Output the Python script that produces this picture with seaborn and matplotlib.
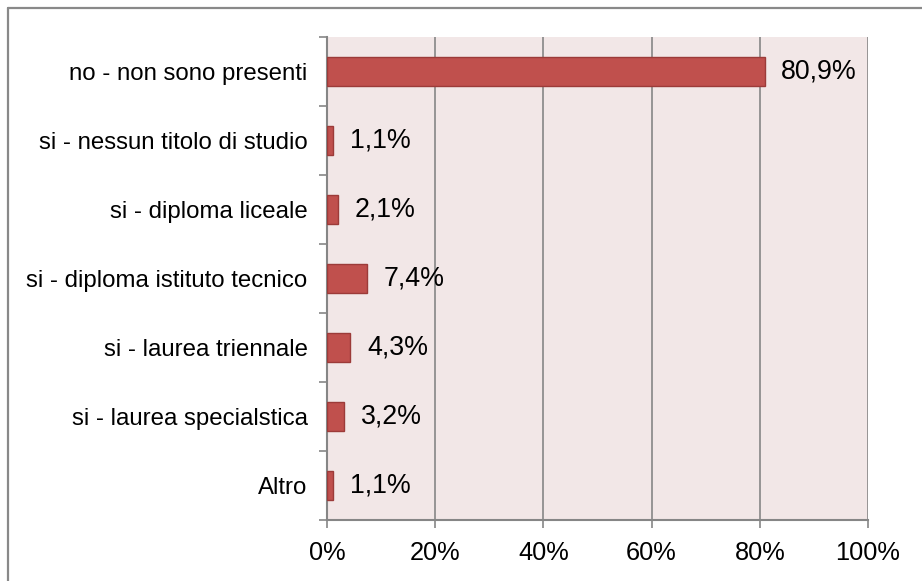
import numpy as np
import matplotlib
matplotlib.use("Agg")
import matplotlib.pyplot as plt
from matplotlib.lines import Line2D
import seaborn as sns

# Chart data
categories = ["no - non sono presenti", "si - nessun titolo di studio", "si - diploma liceale",
              "si - diploma istituto tecnico", "si - laurea triennale", "si - laurea specialstica", "Altro"]
values = [80.9, 1.1, 2.1, 7.4, 4.3, 3.2, 1.1]
labels = ["80,9%", "1,1%", "2,1%", "7,4%", "4,3%", "3,2%", "1,1%"]
xticks = [0, 20, 40, 60, 80, 100]
xtick_labels = ["0%", "20%", "40%", "60%", "80%", "100%"]

sns.set_style("white")
plt.rcParams['font.family'] = ['Liberation Sans', 'DejaVu Sans']

fig = plt.figure(figsize=(9.22, 5.81), dpi=100)
ax = fig.add_axes([327 / 922, 61 / 581, 541 / 922, 483 / 581])
ax.set_facecolor("#f2e7e7")

sns.barplot(x=values, y=categories, orient="h", color="#c0504d", edgecolor="#9c3b39",
            linewidth=1, width=0.42, saturation=1, ax=ax, zorder=3)

# value labels
for i, (v, lab) in enumerate(zip(values, labels)):
    ax.annotate(lab, xy=(v, i), xytext=(12, 0), textcoords="offset points",
                va="center", ha="left", fontsize=19.3, color="black")

ax.set_xlim(0, 100)
ax.set_ylim(6.5, -0.5)
ax.set_xticks(xticks)
ax.set_xticklabels(xtick_labels, fontsize=18.3, color="black")
ax.set_yticks(range(len(categories)))
ax.set_yticklabels(categories, fontsize=17.3, color="black")
ax.set_yticks(np.arange(-0.5, 7, 1), minor=True)
ax.tick_params(axis="y", which="major", length=0, pad=14)
ax.tick_params(axis="y", which="minor", length=6, width=1.2, color="#868686", direction="out", left=True)
ax.tick_params(axis="x", which="major", length=6, width=1.2, color="#868686", direction="out", bottom=True, pad=9)
ax.set_xlabel("")
ax.set_ylabel("")

ax.grid(axis="x", color="#868686", linewidth=1.2, zorder=0)
ax.set_axisbelow(True)
for s in ["top", "right"]:
    ax.spines[s].set_visible(False)
for s in ["left", "bottom"]:
    ax.spines[s].set_color("#868686")
    ax.spines[s].set_linewidth(1.5)

# outer chart border (top and left visible)
fig.add_artist(Line2D([7.5 / 922, 1.0], [1 - 7.5 / 581, 1 - 7.5 / 581], color="#898989", lw=1.6))
fig.add_artist(Line2D([7.5 / 922, 7.5 / 922], [0.0, 1 - 7.5 / 581], color="#898989", lw=1.6))

fig.savefig("out.png", dpi=100)
